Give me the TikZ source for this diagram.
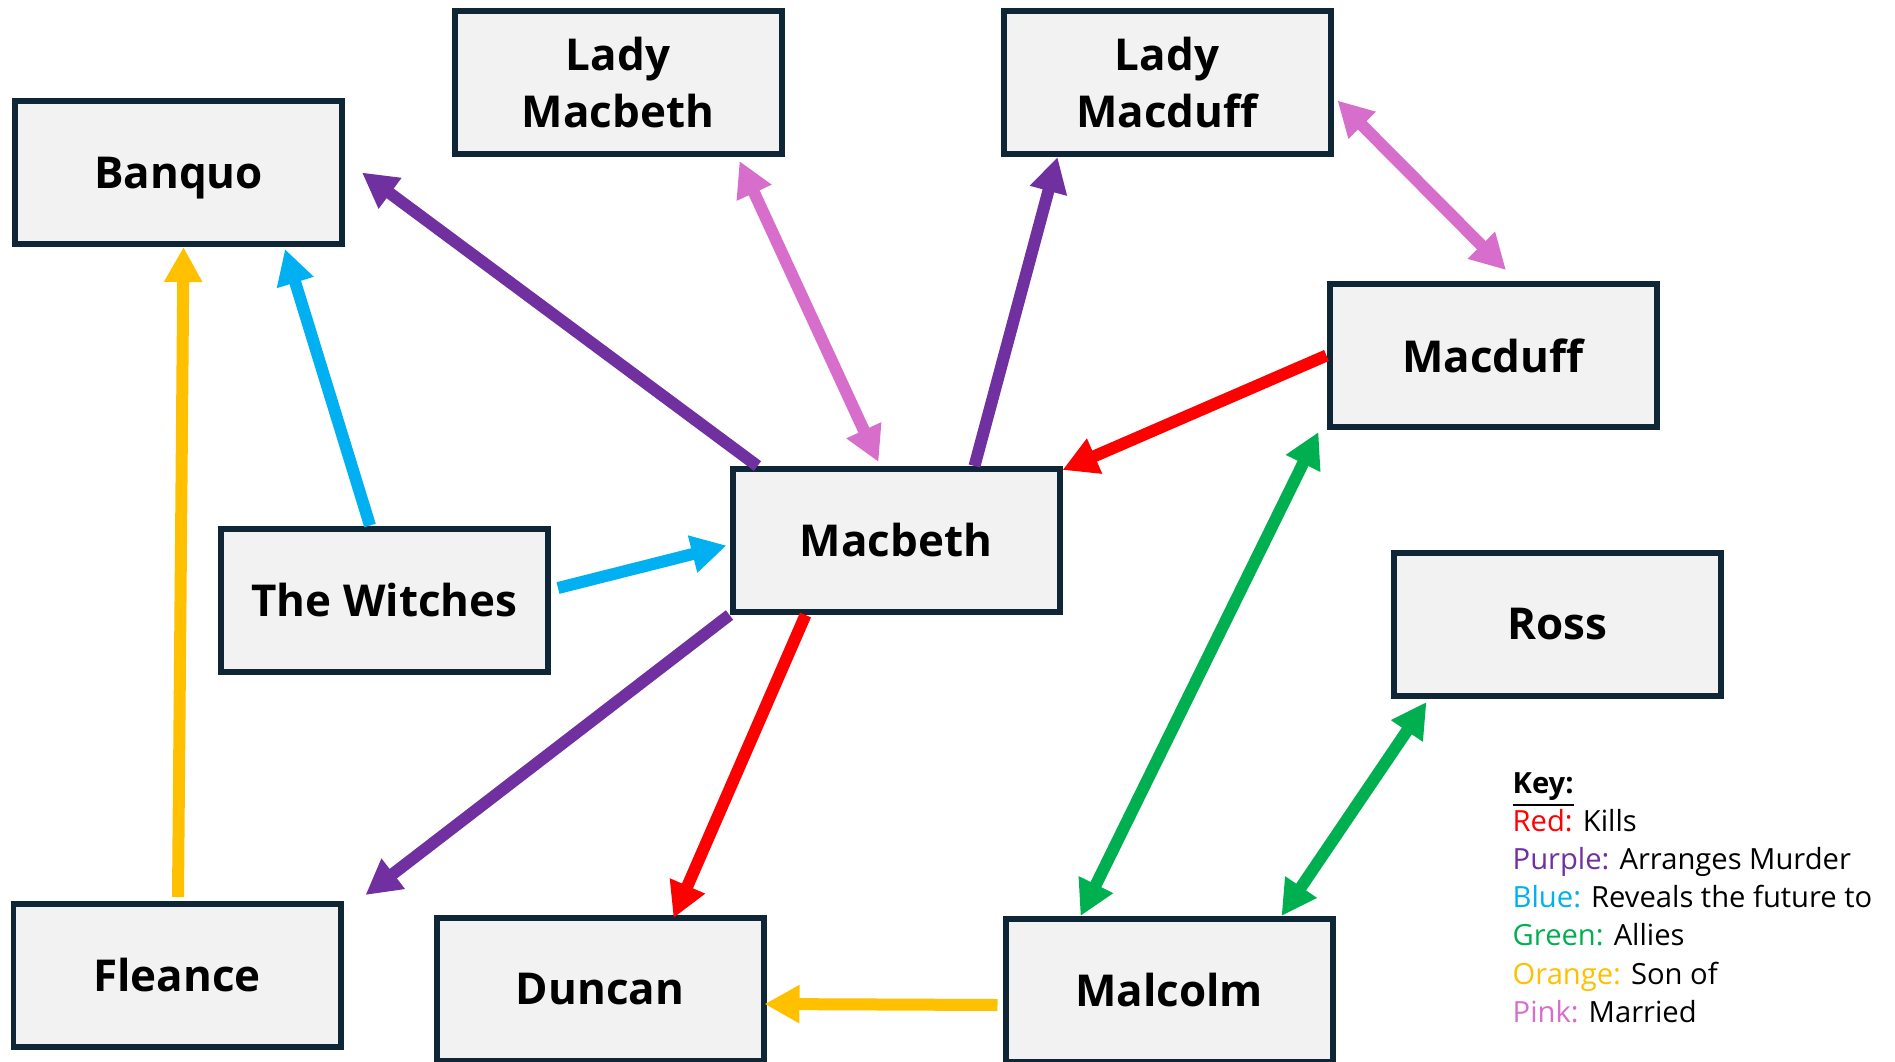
\documentclass[tikz,border=0pt]{standalone}
\usepackage{fontspec}
\setmainfont{Open Sans}
\usepackage{xcolor}
\usetikzlibrary{positioning, arrows.meta, calc}

\definecolor{boxline}{HTML}{0E2636}
\definecolor{boxfill}{HTML}{F2F2F2}
\definecolor{kred}{HTML}{FF0000}
\definecolor{kpurple}{HTML}{7030A0}
\definecolor{kblue}{HTML}{00B0F0}
\definecolor{kgreen}{HTML}{00B050}
\definecolor{korange}{HTML}{FFC000}
\definecolor{kpink}{HTML}{D86ECC}

\begin{document}
\begin{tikzpicture}[
            person/.style={rectangle, draw=boxline, fill=boxfill, line width=0.06cm,
                minimum width=3.27cm, minimum height=1.43cm, align=center,
                font=\fontsize{12.5}{16.2}\selectfont\bfseries},
            rel/.style={line width=0.12cm, -{Triangle[length=3.5mm, width=3.6mm]}},
            both/.style={rel, {Triangle[length=3.5mm, width=3.6mm]}-{Triangle[length=3.5mm, width=3.6mm]}},
            keyline/.style={anchor=base west, inner sep=0pt, font=\fontsize{8.3}{10.8}\selectfont},
        ]
            \useasboundingbox (0,0) rectangle (18.95,-10.61);

            % characters
            \node[person, text depth=0pt] (banquo) at (1.785,-1.725) {Banquo};
            \node[person] (ladymacbeth) at (6.18,-0.825) {Lady\\Macbeth};
            \node[person] (ladymacduff) at (11.67,-0.825) {Lady\\Macduff};
            \node[person] (macduff) at (14.93,-3.555) {Macduff};
            \node[person] (macbeth) at (8.96,-5.405) {Macbeth};
            \node[person] (witches) at (3.845,-6.0) {The Witches};
            \node[person] (ross) at (15.57,-6.245) {Ross};
            \node[person] (fleance) at (1.77,-9.755) {Fleance};
            \node[person] (duncan) at (6.0,-9.895) {Duncan};
            \node[person] (malcolm) at (11.69,-9.905) {Malcolm};

            % relations
            \draw[rel, kpurple] ($(macbeth.north west)+(0.28,0)$) -- ($(banquo.east)+(0.17,0)$);
            \draw[both, kpink] ($(ladymacbeth.south east)+(-0.45,-0.04)$) -- ($(macbeth.north west)+(1.49,0.04)$);
            \draw[rel, kpurple] ($(macbeth.north west)+(2.45,0)$) -- ($(ladymacduff.south west)+(0.57,0)$);
            \draw[both, kpink] ($(ladymacduff.east)+(0.04,-0.18)$) -- ($(macduff.north)+(0.13,0.11)$);
            \draw[rel, kred] (macduff.west) -- ($(macbeth.north east)+(0,-0.04)$);
            \draw[rel, kblue] ($(witches.north west)+(1.52,0)$) -- ($(banquo.south east)+(-0.6,-0.02)$);
            \draw[rel, kblue] ($(witches.east)+(0.07,0.12)$) -- ($(macbeth.west)+(-0.03,-0.05)$);
            \draw[rel, korange] ($(fleance.north)+(0.01,0.04)$) -- ($(banquo.south)+(0.05,0)$);
            \draw[rel, kpurple] (macbeth.south west) -- ($(fleance.north east)+(0.22,0.06)$);
            \draw[rel, kred] ($(macbeth.south west)+(0.76,0)$) -- ($(duncan.north west)+(2.4,-0.03)$);
            \draw[rel, korange] ($(malcolm.west)+(-0.05,-0.145)$) -- ($(duncan.east)+(-0.02,-0.145)$);
            \draw[both, kgreen] ($(malcolm.north west)+(0.78,0)$) -- ($(macduff.south west)+(-0.08,-0.02)$);
            \draw[both, kgreen] ($(malcolm.north east)+(-0.54,0)$) -- ($(ross.south west)+(0.36,-0.03)$);

            % key
            \node[keyline, font=\fontsize{8.3}{10.8}\selectfont\bfseries] (keytitle) at (15.12,-7.93) {\underline{Key:}};
            \foreach \col/\name/\what [count=\i] in {kred/Red/Kills, kpurple/Purple/Arranges Murder,
                    kblue/Blue/Reveals the future to, kgreen/Green/Allies, korange/Orange/Son of, kpink/Pink/Married}
                \node[keyline] (key\i) at (15.12,{-7.93-0.382*\i}) {\textcolor{\col}{\name:} \what};
        \end{tikzpicture}
\end{document}
